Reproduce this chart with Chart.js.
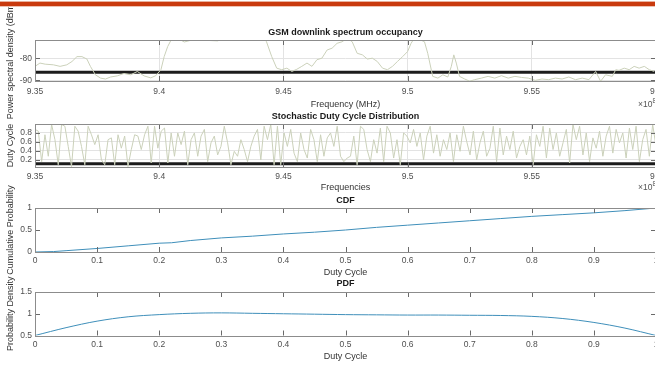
<!DOCTYPE html>
<html>
<head>
<meta charset="utf-8">
<title>GSM downlink spectrum occupancy</title>
<script src="https://cdn.jsdelivr.net/npm/chart.js@4/dist/chart.umd.min.js"></script>
<style>
  html, body { margin: 0; padding: 0; background: #fff; }
  body { width: 655px; height: 367px; overflow: hidden; position: relative; }
  canvas { position: absolute; left: 0; top: 0; }
  #topbar { position: absolute; left: 0; top: 1px; width: 655px; height: 4px; background: #c93a0e; border-top: 1px solid #e9b09c; border-bottom: 1px solid #eec2b3; z-index: 5; }
</style>
</head>
<body>
<canvas id="chart-psd" width="700" height="367"></canvas>
<canvas id="chart-duty" width="700" height="367"></canvas>
<canvas id="chart-cdf" width="700" height="367"></canvas>
<canvas id="chart-pdf" width="700" height="367"></canvas>
<div id="topbar"></div>
<script>
// GSM spectrum occupancy figure - four stacked axes, MATLAB look

// ---- frequency axis (x 10^8 Hz) ----
const freqTicks = [9.35, 9.4, 9.45, 9.5, 9.55, 9.6];
const freqTickLabels = ["9.35", "9.4", "9.45", "9.5", "9.55", "9.6"];

// ---- power spectral density trace ----
const psdFreq = [
  9.3500, 9.3520, 9.3541, 9.3574, 9.3601, 9.3628, 9.3649, 9.3669, 9.3689, 9.3709,
  9.3723, 9.3743, 9.3764, 9.3784, 9.3804, 9.3831, 9.3858, 9.3885, 9.3912, 9.3939,
  9.3966, 9.3986, 9.4007, 9.4020, 9.4034, 9.4047, 9.4074, 9.4101, 9.4142, 9.4169,
  9.4196, 9.4236, 9.4277, 9.4331, 9.4385, 9.4426, 9.4432, 9.4453, 9.4473, 9.4493,
  9.4514, 9.4534, 9.4554, 9.4574, 9.4595, 9.4615, 9.4635, 9.4655, 9.4676, 9.4696,
  9.4716, 9.4736, 9.4757, 9.4777, 9.4797, 9.4818, 9.4838, 9.4858, 9.4878, 9.4899,
  9.4919, 9.4939, 9.4959, 9.4980, 9.5000, 9.5014, 9.5027, 9.5047, 9.5068, 9.5081,
  9.5101, 9.5122, 9.5142, 9.5162, 9.5176, 9.5186, 9.5196, 9.5209, 9.5230, 9.5250,
  9.5270, 9.5297, 9.5324, 9.5351, 9.5378, 9.5405, 9.5432, 9.5459, 9.5486, 9.5514,
  9.5541, 9.5568, 9.5595, 9.5622, 9.5649, 9.5676, 9.5703, 9.5730, 9.5757, 9.5777,
  9.5797, 9.5824, 9.5838, 9.5851, 9.5872, 9.5892, 9.5912, 9.5932, 9.5953, 9.5973, 9.5993
];
const psdPower = [
  -83.7, -82.2, -82.7, -83.0, -83.7, -83.0, -81.5, -79.3, -79.3, -80.4,
  -83.7, -87.5, -89.0, -89.4, -88.5, -88.0, -86.9, -87.5, -86.0, -88.0,
  -88.9, -87.9, -85.2, -79.3, -74.8, -72.0, -71.0, -72.7, -71.5, -70.0,
  -72.0, -72.2, -70.0, -69.0, -70.0, -71.5, -72.6, -79.3, -84.5, -85.2,
  -84.5, -86.0, -85.0, -83.7, -82.2, -83.7, -80.7, -80.0, -76.3, -75.5,
  -73.3, -72.6, -71.0, -72.6, -77.8, -78.5, -80.4, -80.0, -81.5, -84.5,
  -85.2, -83.7, -81.5, -79.3, -77.0, -73.3, -71.0, -71.5, -72.6, -77.8,
  -88.2, -89.0, -87.5, -88.5, -83.7, -78.5, -82.2, -88.2, -89.4, -90.4,
  -89.7, -89.0, -88.2, -89.0, -87.9, -89.0, -88.2, -88.7, -89.0, -90.0,
  -89.4, -89.7, -89.0, -89.4, -88.5, -89.7, -89.0, -89.7, -86.0, -90.4,
  -87.5, -88.2, -85.2, -85.5, -84.5, -85.2, -83.7, -84.5, -83.7, -85.2, -86.0
];
const psdThreshold = -86.4;
const psdTicks = [-90, -80];
const psdTickLabels = ["-90", "-80"];

// ---- duty cycle per frequency bin (evenly spaced over 9.35..9.6) ----
const dutyFreqStart = 9.35;
const dutyFreqEnd = 9.6;
const dutyValues = [
  0.88, 0.84, 0.16, 0.76, 0.28, 0.99, 0.65, 0.09, 0.99, 0.95,
  0.50, 0.05, 0.95, 0.84, 0.50, 0.09, 0.95, 0.76, 0.54, 0.76,
  0.20, 0.09, 0.65, 0.69, 0.09, 0.76, 0.46, 0.73, 0.05, 0.43,
  0.76, 0.73, 0.43, 0.76, 0.95, 0.13, 0.95, 0.46, 0.84, 0.91,
  0.13, 0.80, 0.28, 0.80, 0.54, 0.84, 0.09, 0.65, 0.80, 0.28,
  0.73, 0.88, 0.16, 0.58, 0.73, 0.31, 0.50, 0.95, 0.58, 0.09,
  0.39, 0.28, 0.65, 0.43, 0.16, 0.50, 0.73, 0.88, 0.20, 0.95,
  0.65, 0.99, 0.09, 0.95, 0.09, 0.80, 0.50, 0.88, 0.35, 0.16,
  0.80, 0.43, 0.24, 0.88, 0.65, 0.16, 0.76, 0.28, 0.69,
  0.80, 0.50, 0.95, 0.28, 0.16, 0.24, 0.28, 0.73, 0.09, 0.95,
  0.88, 0.43, 0.16, 0.65, 0.35, 0.91, 0.16, 0.95, 0.80, 0.24,
  0.65, 0.09, 0.80, 0.73, 0.58, 0.88, 0.50, 0.80, 0.20, 0.73,
  0.95, 0.35, 0.76, 0.28, 0.65, 0.43, 0.80, 0.16, 0.76, 0.39,
  0.95, 0.61, 0.31, 0.84, 0.20, 0.58, 0.84, 0.28, 0.46, 0.95,
  0.16, 0.91, 0.31, 0.73, 0.43, 0.84, 0.24, 0.50, 0.65, 0.31,
  0.73, 0.09, 0.76, 0.50, 0.95, 0.24, 0.91, 0.43, 0.80, 0.28,
  0.58, 0.88, 0.13, 0.99, 0.65, 0.95, 0.31, 0.80, 0.16, 0.69,
  0.46, 0.84, 0.28, 0.73, 0.95, 0.35, 0.88, 0.58, 0.80, 0.24,
  0.91, 0.43, 0.95, 0.16, 0.65, 0.88, 0.28, 0.99, 0.50
];
const dutyThreshold = 0.11;
const dutyTicks = [0.2, 0.4, 0.6, 0.8];
const dutyTickLabels = ["0.2", "0.4", "0.6", "0.8"];

// ---- duty cycle CDF / PDF ----
const cycleTicks = [0, 0.1, 0.2, 0.3, 0.4, 0.5, 0.6, 0.7, 0.8, 0.9, 1];
const cycleTickLabels = ["0", "0.1", "0.2", "0.3", "0.4", "0.5", "0.6", "0.7", "0.8", "0.9", "1"];

const cdfX = [0, 0.03, 0.05, 0.1, 0.15, 0.2, 0.22, 0.25, 0.3, 0.35, 0.4, 0.45, 0.5, 0.55, 0.6, 0.65, 0.7, 0.75, 0.8, 0.85, 0.9, 0.95, 1];
const cdfY = [0, 0.01, 0.03, 0.08, 0.14, 0.2, 0.21, 0.26, 0.32, 0.36, 0.41, 0.45, 0.5, 0.56, 0.61, 0.66, 0.71, 0.76, 0.81, 0.85, 0.89, 0.94, 1];
const cdfTicks = [0, 0.5, 1];
const cdfTickLabels = ["0", "0.5", "1"];

const pdfX = [0, 0.05, 0.1, 0.15, 0.2, 0.25, 0.3, 0.35, 0.4, 0.45, 0.5, 0.55, 0.6, 0.65, 0.7, 0.75, 0.8, 0.85, 0.9, 0.95, 1];
const pdfY = [0.5, 0.68, 0.83, 0.93, 0.98, 1.01, 1.02, 1.01, 1.0, 0.99, 0.98, 0.975, 0.97, 0.97, 0.965, 0.96, 0.94, 0.89, 0.8, 0.67, 0.5];
const pdfTicks = [0.5, 1, 1.5];
const pdfTickLabels = ["0.5", "1", "1.5"];

const FONT = "'Liberation Sans', Arial, Helvetica, sans-serif";
const TRACE = "#cbd1ba";
const CURVE = "#3f8fba";
const CANVAS_H = 367;
const PLOT_RIGHT = 656;

// draws the MATLAB-ish box, inward ticks and the x10^8 exponent
const matlabAxes = {
  id: "matlabAxes",
  afterDatasetsDraw(chart, args, opts) {
    const { ctx, chartArea: a, scales } = chart;
    ctx.save();
    ctx.strokeStyle = "#6a6a6a";
    ctx.lineWidth = 1;
    ctx.beginPath();
    scales.x.ticks.forEach(t => {
      const px = Math.round(scales.x.getPixelForValue(t.value)) + 0.5;
      ctx.moveTo(px, a.top); ctx.lineTo(px, a.top + 5);
      ctx.moveTo(px, a.bottom); ctx.lineTo(px, a.bottom - 5);
    });
    scales.y.ticks.forEach(t => {
      const py = Math.round(scales.y.getPixelForValue(t.value)) + 0.5;
      ctx.moveTo(a.left, py); ctx.lineTo(a.left + 5, py);
      ctx.moveTo(a.right, py); ctx.lineTo(a.right - 5, py);
    });
    ctx.stroke();
    ctx.strokeStyle = "#8c8c8c";
    ctx.strokeRect(Math.round(a.left) + 0.5, Math.round(a.top) + 0.5,
                   Math.round(a.width), Math.round(a.height));
    if (opts && opts.exponentY) {
      ctx.fillStyle = "#555";
      ctx.textBaseline = "middle";
      ctx.font = "8.5px " + FONT;
      ctx.fillText("\u00d710", 638, opts.exponentY);
      const w = ctx.measureText("\u00d710").width;
      ctx.font = "6.5px " + FONT;
      ctx.fillText("8", 638 + w, opts.exponentY - 4);
    }
    ctx.restore();
  }
};

function tickList(values) {
  return values.map(v => ({ value: v }));
}

function makeChart(canvasId, c) {
  const lh = 9 * 1.2;
  const s = c.slot;
  const padTop = s.titleY - lh / 2;
  const titlePad = s.top - padTop - lh;
  const xHeight = s.xTitleY + lh / 2 - s.bottom;
  const padBottom = CANVAS_H - (s.xTitleY + lh / 2);

  return new Chart(document.getElementById(canvasId), {
    type: "line",
    data: { datasets: c.datasets },
    options: {
      responsive: false,
      animation: false,
      devicePixelRatio: 1,
      layout: { padding: { top: padTop, bottom: padBottom, left: 0, right: 700 - PLOT_RIGHT } },
      plugins: {
        legend: { display: false },
        tooltip: { enabled: false },
        title: {
          display: true,
          text: c.title,
          fullSize: false,
          color: "#1a1a1a",
          font: { family: FONT, size: 9, weight: "bold" },
          padding: { top: 0, bottom: titlePad }
        },
        matlabAxes: { exponentY: c.exponent ? s.xTitleY : null }
      },
      elements: { point: { radius: 0 } },
      scales: {
        x: {
          type: "linear",
          min: c.xMin,
          max: c.xMax,
          afterFit: sc => { sc.height = xHeight; },
          afterBuildTicks: sc => { sc.ticks = tickList(c.xTicks); },
          grid: { display: c.grid, color: "#e3e3e3", drawTicks: false },
          border: { display: false },
          ticks: {
            color: "#4f4f4f",
            font: { family: FONT, size: 8.5 },
            padding: s.tickPad,
            maxRotation: 0,
            autoSkip: false,
            callback: (v, i) => c.xLabels[i]
          },
          title: {
            display: true,
            text: c.xTitle,
            color: "#333",
            font: { family: FONT, size: 9 },
            padding: { top: 0, bottom: 0 }
          }
        },
        y: {
          type: "linear",
          min: c.yMin,
          max: c.yMax,
          afterFit: sc => { sc.width = 35; },
          afterBuildTicks: sc => { sc.ticks = tickList(c.yTicks); },
          grid: { display: c.grid, color: "#e3e3e3", drawTicks: false },
          border: { display: false },
          ticks: {
            color: "#4f4f4f",
            font: { family: FONT, size: 8.5 },
            padding: 3,
            autoSkip: false,
            callback: (v, i) => c.yLabels[i]
          },
          title: {
            display: true,
            text: c.yTitle,
            color: "#333",
            font: { family: FONT, size: 9 },
            padding: { top: 5.5, bottom: 0 }
          }
        }
      }
    },
    plugins: [matlabAxes]
  });
}

// subplot 1: PSD
makeChart("chart-psd", {
  title: "GSM downlink spectrum occupancy",
  xTitle: "Frequency (MHz)",
  yTitle: "Power spectral density (dBm)",
  slot: { titleY: 33, top: 40, bottom: 81, xTitleY: 105, tickPad: 5.5 },
  xMin: 9.35, xMax: 9.6, yMin: -90.3, yMax: -71.8,
  xTicks: freqTicks, xLabels: freqTickLabels,
  yTicks: psdTicks, yLabels: psdTickLabels,
  grid: true, exponent: true,
  datasets: [
    {
      data: psdFreq.map((f, i) => ({ x: f, y: psdPower[i] })),
      borderColor: TRACE, borderWidth: 1, tension: 0, pointRadius: 0
    },
    {
      data: [{ x: 9.35, y: psdThreshold }, { x: 9.6, y: psdThreshold }],
      borderColor: "#1c1c1c", borderWidth: 3, pointRadius: 0
    }
  ]
});

// subplot 2: duty cycle across frequencies
const dutyStep = (dutyFreqEnd - dutyFreqStart) / (dutyValues.length - 1);
makeChart("chart-duty", {
  title: "Stochastic Duty Cycle Distribution",
  xTitle: "Frequencies",
  yTitle: "Duty Cycle",
  slot: { titleY: 117, top: 124, bottom: 167, xTitleY: 188, tickPad: 4.5 },
  xMin: 9.35, xMax: 9.6, yMin: 0.04, yMax: 1.0,
  xTicks: freqTicks, xLabels: freqTickLabels,
  yTicks: dutyTicks, yLabels: dutyTickLabels,
  grid: true, exponent: true,
  datasets: [
    {
      data: dutyValues.map((v, i) => ({ x: dutyFreqStart + i * dutyStep, y: v })),
      borderColor: TRACE, borderWidth: 1, tension: 0, pointRadius: 0
    },
    {
      data: [{ x: 9.35, y: dutyThreshold }, { x: 9.6, y: dutyThreshold }],
      borderColor: "#1c1c1c", borderWidth: 3, pointRadius: 0
    }
  ]
});

// subplot 3: CDF
makeChart("chart-cdf", {
  title: "CDF",
  xTitle: "Duty Cycle",
  yTitle: "Cumulative Probability",
  slot: { titleY: 200.5, top: 208, bottom: 252, xTitleY: 272.5, tickPad: 3.5 },
  xMin: 0, xMax: 1, yMin: 0, yMax: 1,
  xTicks: cycleTicks, xLabels: cycleTickLabels,
  yTicks: cdfTicks, yLabels: cdfTickLabels,
  grid: false, exponent: false,
  datasets: [{
    data: cdfX.map((x, i) => ({ x, y: cdfY[i] })),
    borderColor: CURVE, borderWidth: 1, tension: 0, pointRadius: 0
  }]
});

// subplot 4: PDF
makeChart("chart-pdf", {
  title: "PDF",
  xTitle: "Duty Cycle",
  yTitle: "Probability Density",
  slot: { titleY: 284, top: 292, bottom: 335.5, xTitleY: 356.5, tickPad: 4 },
  xMin: 0, xMax: 1, yMin: 0.5, yMax: 1.5,
  xTicks: cycleTicks, xLabels: cycleTickLabels,
  yTicks: pdfTicks, yLabels: pdfTickLabels,
  grid: false, exponent: false,
  datasets: [{
    data: pdfX.map((x, i) => ({ x, y: pdfY[i] })),
    borderColor: CURVE, borderWidth: 1, tension: 0.35, pointRadius: 0
  }]
});
</script>
</body>
</html>
